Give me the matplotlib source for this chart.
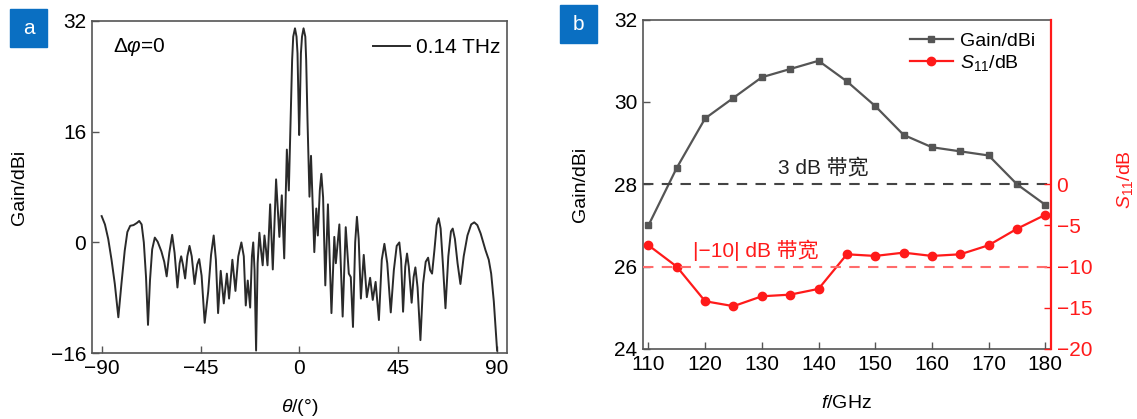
import numpy as np
import matplotlib.pyplot as plt
from matplotlib.patches import Rectangle
from matplotlib.lines import Line2D

plt.rcParams['font.family'] = ['Liberation Sans', 'Noto Sans CJK SC', 'DejaVu Sans']
plt.rcParams['mathtext.fontset'] = 'custom'
plt.rcParams['mathtext.rm'] = 'Liberation Sans'
plt.rcParams['mathtext.it'] = 'Liberation Sans:italic'

# (a) radiation pattern at 0.14 THz
theta = [-90.0, -88.5, -87.0, -85.5, -84.0, -82.4, -81.0, -79.5, -78.3, -77.0,
         -75.5, -74.0, -72.9, -71.8, -70.8, -69.8, -68.9, -68.0, -67.0, -65.8,
         -64.5, -62.8, -61.5, -60.4, -59.2, -57.9, -56.8, -55.5, -54.5, -53.8,
         -53.0, -52.0, -51.0, -50.0, -49.0, -47.7, -46.5, -45.6, -44.5, -43.1,
         -41.5, -40.2, -39.0, -38.0, -37.0, -35.8, -34.4, -33.0, -32.0, -30.5,
         -29.1, -27.8, -26.4, -25.3, -24.4, -23.5, -22.4, -21.6, -21.0, -20.4,
         -19.7, -19.0, -18.2, -17.5, -16.7, -15.9, -15.2, -14.5, -13.3, -12.1,
         -10.6, -9.1, -8.0, -6.9, -5.7, -4.8, -4.0, -3.3, -2.8, -2.0,
         -1.3, -0.85, -0.4, -0.1, 0.25, 0.7, 1.2, 1.9, 2.7, 3.1,
         3.7, 4.6, 5.3, 6.0, 6.8, 7.7, 8.4, 9.3, 10.0, 10.8,
         11.8, 13.0, 14.6, 15.9, 16.6, 18.2, 19.7, 21.1, 22.5, 23.4,
         24.4, 25.4, 26.2, 27.0, 28.0, 29.3, 30.7, 32.2, 33.4, 34.7,
         36.2, 37.5, 38.7, 40.0, 41.6, 43.0, 44.3, 45.5, 46.3, 47.2,
         48.2, 49.0, 49.8, 51.1, 52.0, 52.8, 53.8, 55.1, 56.3, 57.5,
         58.6, 59.5, 60.4, 61.5, 62.5, 63.4, 64.3, 65.3, 66.5, 67.8,
         69.0, 69.8, 70.8, 72.0, 73.3, 74.8, 76.5, 78.2, 79.6, 81.0,
         82.5, 84.7, 86.2, 87.3, 88.5, 90.0]
pattern = [3.8, 2.6, 0.5, -2.5, -6.0, -10.8, -6.0, -1.2, 1.5, 2.4,
           2.5, 2.8, 3.1, 2.6, 0.0, -5.0, -11.9, -5.5, -1.0, 0.7,
           0.1, -1.3, -2.8, -4.9, -1.5, 1.1, -1.5, -6.5, -3.0, -2.0,
           -3.2, -5.2, -2.0, -0.5, -2.0, -6.0, -3.2, -2.4, -4.8, -11.6,
           -7.1, -1.8, 1.0, -2.5, -10.2, -4.1, -8.8, -4.5, -8.1, -2.5,
           -7.0, -2.0, 0.0, -2.0, -9.1, -5.5, -9.4, -2.0, 0.0, -4.0,
           -15.6, -3.0, 1.4, -1.0, -3.3, 1.0, -1.0, -3.3, 5.5, -3.9,
           9.1, 0.8, 6.8, -2.3, 13.4, 7.5, 17.6, 26.3, 29.7, 30.9,
           29.7, 27.3, 20.1, 15.5, 20.1, 27.3, 29.7, 30.9, 29.7, 26.3,
           17.6, 6.6, 12.5, 6.0, -1.4, 4.9, 1.0, 7.5, 9.9, 6.5,
           -6.2, 5.5, -10.2, 0.8, -3.0, 2.6, -10.7, 2.2, -4.5, -5.0,
           -12.2, 0.0, 3.7, 0.5, -8.1, -1.8, -7.9, -5.1, -8.3, -5.7,
           -11.2, -2.5, -0.2, -3.0, -10.1, -4.0, -0.5, 0.0, -2.5, -10.0,
           -3.5, -1.6, -3.5, -8.7, -5.0, -3.6, -6.5, -14.1, -6.0, -2.8,
           -2.2, -4.0, -4.5, -1.0, 2.5, 3.5, 2.0, -3.0, -9.5, -2.0,
           1.6, 2.0, 0.5, -3.0, -6.0, -2.0, 1.0, 2.6, 2.9, 2.5,
           1.3, -1.1, -2.5, -4.5, -8.5, -15.6]

# (b) gain and S11 vs frequency
freq = [110, 115, 120, 125, 130, 135, 140, 145, 150, 155, 160, 165, 170, 175, 180]
gain = [27.0, 28.4, 29.6, 30.1, 30.6, 30.8, 31.0, 30.5, 29.9, 29.2, 28.9, 28.8, 28.7, 28.0, 27.5]
s11 = [-7.4, -10.0, -14.2, -14.8, -13.6, -13.4, -12.7, -8.5, -8.7, -8.3, -8.7, -8.5, -7.4, -5.4, -3.7]

fig = plt.figure(figsize=(11.37, 4.19), dpi=100)
axa = fig.add_axes([0.0807, 0.1568, 0.3652, 0.7938])
axb = fig.add_axes([0.5653, 0.1671, 0.3591, 0.7861])

spine_col = '#555555'
red = '#ff1a1a'

# ---- panel a
axa.plot(theta, pattern, color='#2a2a2a', lw=1.4, label='0.14 THz')
axa.set_xlim(-94.5, 94.5)
axa.set_ylim(-16, 32)
axa.set_xticks([-90, -45, 0, 45, 90])
axa.set_yticks([-16, 0, 16, 32])
axa.tick_params(direction='in', length=5, width=1, color=spine_col, labelsize=15, pad=4)
for s in axa.spines.values():
    s.set_color(spine_col)
    s.set_linewidth(1.2)
axa.set_ylabel('Gain/dBi', fontsize=14)
axa.yaxis.set_label_coords(-0.153, 0.5)
axa.set_xlabel(r'$\theta$/(°)', fontsize=14)
axa.xaxis.set_label_coords(0.5, -0.13)
axa.text(-84.8, 28.2, r'Δ$\varphi$=0', fontsize=15, va='center', ha='left')
axa.legend(loc='upper right', frameon=False, fontsize=15, handlelength=1.8,
           handletextpad=0.3, borderaxespad=0.2, bbox_to_anchor=(1.015, 0.985))

# ---- panel b
axb.plot(freq, gain, color='#555555', lw=1.6, marker='s', ms=5, label='Gain/dBi')
axb.axhline(28, color='#444444', lw=1.5, ls=(0, (5, 4)))
axb.set_xlim(109, 181)
axb.set_ylim(24, 32)
axb.set_xticks(range(110, 181, 10))
axb.set_yticks([24, 26, 28, 30, 32])
axb.tick_params(direction='in', length=5, width=1, color=spine_col, labelsize=15, pad=4)
for s in axb.spines.values():
    s.set_color(spine_col)
    s.set_linewidth(1.2)
axb.set_ylabel('Gain/dBi', fontsize=14)
axb.yaxis.set_label_coords(-0.1315, 0.5)
axb.set_xlabel(r'$f$/GHz', fontsize=14)
axb.xaxis.set_label_coords(0.5, -0.14)
axb.text(140.8, 28.4, '3 dB 带宽', fontsize=15, ha='center', va='center', color='#222222')

ax2 = axb.twinx()
ax2.plot(freq, s11, color=red, lw=1.6, marker='o', ms=6, label=r'$S_{\rm 11}$/dB')
ax2.axhline(-10, color='#ff6b6b', lw=1.5, ls=(0, (5, 4)))
ax2.set_ylim(-20, 20)
ax2.set_yticks([-20, -15, -10, -5, 0])
ax2.tick_params(direction='in', length=5, width=1, color=red, labelcolor=red, labelsize=15, pad=4)
ax2.spines['right'].set_color(red)
ax2.spines['right'].set_linewidth(1.6)
for k in ['left', 'top', 'bottom']:
    ax2.spines[k].set_visible(False)
ax2.set_ylabel(r'$S_{\rm 11}$/dB', fontsize=14, color=red)
ax2.yaxis.set_label_coords(1.157, 0.516)
axb.text(128.9, 26.4, '|−10| dB 带宽', fontsize=15, ha='center', va='center', color=red)

handles = [Line2D([], [], color='#555555', lw=1.6, marker='s', ms=5),
           Line2D([], [], color=red, lw=1.6, marker='o', ms=6)]
axb.legend(handles, ['Gain/dBi', r'$S_{\rm 11}$/dB'], loc='upper right', frameon=False,
           fontsize=14, handlelength=2.2, handletextpad=0.4, labelspacing=0.15,
           bbox_to_anchor=(1.005, 1.015))

# panel letters
for x0, y0, letter in [(10, 372, 'a'), (560, 376, 'b')]:
    fig.patches.append(Rectangle((x0 / 1137, y0 / 419), 37 / 1137, 38 / 419,
                                 transform=fig.transFigure, color='#0a6fc2', zorder=5))
    fig.text((x0 + 18.5) / 1137, (y0 + 19) / 419, letter, color='white', fontsize=15,
             ha='center', va='center', zorder=6)

fig.savefig('out.png', dpi=100)
